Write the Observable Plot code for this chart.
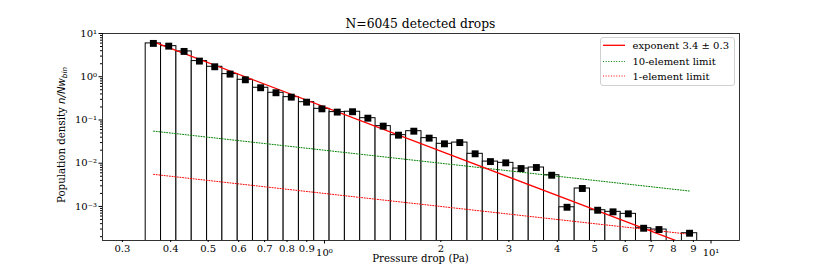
<!DOCTYPE html>
<html><head><meta charset="utf-8">
<script src="https://cdn.jsdelivr.net/npm/d3@7"></script>
<script src="https://cdn.jsdelivr.net/npm/@observablehq/plot@0.6"></script>
<style>
body{margin:0;background:#fff;}
#chart{position:relative;width:822px;height:274px;}
</style></head>
<body><div id="chart"></div>
<script>
// ---- data ----
const binEdges = [0.3447,0.3777,0.4139,0.4535,0.4969,0.5444,0.5964,0.6531,0.7157,0.7840,0.8588,0.9408,
  1.0309,1.1293,1.2370,1.3557,1.4847,1.6266,1.7824,1.9526,2.1389,2.3442,2.5675,2.8125,3.0819,3.3759,
  3.6983,4.0525,4.4392,4.8628,5.3299,5.8385,6.3960,7.0080,7.6773,8.4078,9.2110];
const density = [5.9,5.1,3.85,2.3,1.70,1.15,0.85,0.556,0.426,0.337,0.258,0.181,0.152,0.155,0.110,0.072,
  0.0445,0.055,0.038,0.0281,0.030,0.0165,0.0109,0.0102,0.00753,0.00795,0.00527,0.000957,0.00260,0.000817,
  0.000750,0.000674,0.000313,0.000292,null,0.000240];
const lineX = [0.3613, 8.80];
const fitY = [6.37, 1.23e-4];        // exponent 3.4 ± 0.3
const limit10Y = [0.0552, 0.00227];  // 10-element limit
const limit1Y = [0.00552, 0.000227]; // 1-element limit
const xMinorTicks = [0.3,0.4,0.5,0.6,0.7,0.8,0.9,2,3,4,5,6,7,8,9];
const xMinorLabels = ["0.3","0.4","0.5","0.6","0.7","0.8","0.9","2","3","4","5","6","7","8","9"];
const xMajorTicks = [1,10];
const xMajorLabels = ["10\u2070","10\u00b9"];
const yMajorTicks = [1e-3,1e-2,1e-1,1,10];
const yMajorLabels = ["10\u207b\u00b3","10\u207b\u00b2","10\u207b\u00b9","10\u2070","10\u00b9"];
const legendLabels = ["exponent 3.4 \u00b1 0.3","10-element limit","1-element limit"];
const titleText = "N=6045 detected drops";
const xLabelText = "Pressure drop (Pa)";

// ---- derived tables ----
const bins = density.map((v,i)=>({x1:binEdges[i], x2:binEdges[i+1], xc:Math.sqrt(binEdges[i]*binEdges[i+1]), v}))
  .filter(d=>d.v!=null);
const fit = lineX.map((x,i)=>({x, y:fitY[i]}));
const lim10 = lineX.map((x,i)=>({x, y:limit10Y[i]}));
const lim1 = lineX.map((x,i)=>({x, y:limit1Y[i]}));
const yDomain = [1.63e-4, 10];
const yMinorTicks = [];
for (let e=-4;e<=0;e++) for (let m=2;m<=9;m++){const v=m*Math.pow(10,e); if(v>=yDomain[0]) yMinorTicks.push(+v.toPrecision(3));}
const xMin = xMinorTicks.map((v,i)=>({v,label:xMinorLabels[i]}));
const xMaj = xMajorTicks.map((v,i)=>({v,label:xMajorLabels[i]}));

const chart = Plot.plot({
  width:822, height:274, marginLeft:102, marginRight:83, marginTop:33, marginBottom:34,
  style:{fontFamily:"'DejaVu Serif', serif", fontSize:"10px", background:"white", color:"black", overflow:"visible"},
  x:{type:"log", domain:[0.2665,11.85], label:null},
  y:{type:"log", domain:yDomain, label:null},
  marks:[
    Plot.rect(bins,{x1:"x1",x2:"x2",y1:1e-7,y2:"v",fill:"white",stroke:"black",strokeWidth:1,clip:true}),
    Plot.line(lim10,{x:"x",y:"y",stroke:"green",strokeWidth:1,strokeDasharray:"1,1.65",clip:true}),
    Plot.line(lim1,{x:"x",y:"y",stroke:"red",strokeWidth:1,strokeDasharray:"1,1.65",clip:true}),
    Plot.line(fit,{x:"x",y:"y",stroke:"red",strokeWidth:1.3,clip:true}),
    Plot.dot(bins,{x:"xc",y:"v",symbol:"square",r:3.9,fill:"black",stroke:"none"}),
    Plot.axisX({ticks:xMajorTicks,tickSize:3.5,tickFormat:()=>"",label:null}),
    Plot.axisX({ticks:xMinorTicks,tickSize:2,tickFormat:()=>"",label:null}),
    Plot.text(xMin,{x:"v",text:"label",frameAnchor:"bottom",lineAnchor:"top",dy:4.5,fontSize:10}),
    Plot.text(xMaj,{x:"v",text:"label",frameAnchor:"bottom",lineAnchor:"top",dy:8,fontSize:10}),
    Plot.axisY({ticks:yMajorTicks,tickSize:3.5,tickPadding:2,tickFormat:d=>yMajorLabels[yMajorTicks.indexOf(d)],label:null}),
    Plot.axisY({ticks:yMinorTicks,tickSize:2,tickFormat:()=>"",label:null}),
    Plot.frame({stroke:"black",strokeWidth:0.8})
  ]
});
document.getElementById("chart").appendChild(chart);

const svg = d3.select(chart);
svg.append("text").attr("x",420.5).attr("y",27.5).attr("text-anchor","middle")
  .attr("font-family","'DejaVu Serif', serif").attr("font-size",12.3).attr("fill","black").text(titleText);
svg.append("text").attr("x",420.5).attr("y",261.5).attr("text-anchor","middle")
  .attr("font-family","'DejaVu Serif', serif").attr("font-size",10.2).attr("fill","black").text(xLabelText);
const yl = svg.append("text").attr("transform","translate(65,135) rotate(-90)").attr("text-anchor","middle")
  .attr("font-family","'DejaVu Serif', serif").attr("font-size",10.2).attr("fill","black");
yl.append("tspan").text("Population density ");
yl.append("tspan").attr("font-family","'DejaVu Sans', sans-serif").attr("font-style","italic").text("n/Nw");
yl.append("tspan").attr("font-family","'DejaVu Sans', sans-serif").attr("font-style","italic").attr("font-size",7.2).attr("dy",2).text("bin");

// legend
const lg = svg.append("g");
lg.append("rect").attr("x",600.5).attr("y",37.5).attr("width",134).attr("height",48).attr("rx",2.5)
  .attr("fill","white").attr("fill-opacity",0.8).attr("stroke","#d0d0d0").attr("stroke-width",1);
const rows = [
  {y:45.3, ty:49.3, stroke:"red", dash:"none", w:1.3},
  {y:61.5, ty:65.3, stroke:"green", dash:"1,1.65", w:1},
  {y:76, ty:79.8, stroke:"red", dash:"1,1.65", w:1}
];
rows.forEach((r,i)=>{
  lg.append("path").attr("d",`M603,${r.y}H625`).attr("fill","none")
    .attr("stroke",r.stroke).attr("stroke-width",r.w).attr("stroke-dasharray",r.dash);
  lg.append("text").attr("x",632.5).attr("y",r.ty).attr("text-anchor","start").attr("font-family","'DejaVu Serif', serif")
    .attr("font-size",10).attr("fill","black").text(legendLabels[i]);
});
</script>
</body></html>
